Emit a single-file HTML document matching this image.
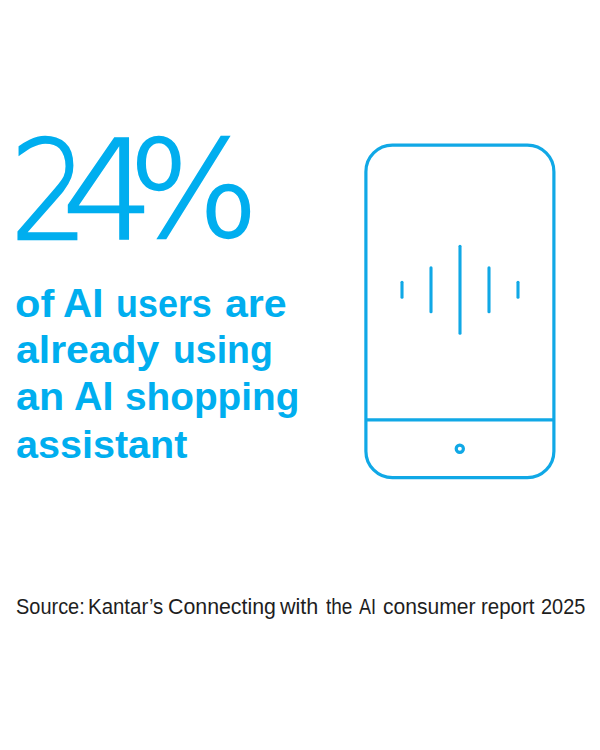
<!DOCTYPE html>
<html lang="en">
<head>
<meta charset="utf-8">
<title>24% of AI users are already using an AI shopping assistant</title>
<style>
  html, body { margin: 0; padding: 0; background: #ffffff; }
  body { width: 600px; height: 750px; position: relative; overflow: hidden; }
  .w, .g { position: absolute; display: inline-block; white-space: nowrap; line-height: 0; transform-origin: 0 0; }
  .big { position: absolute; left: 0; top: 0; margin: 0; font-family: "DejaVu Sans", "Liberation Sans", sans-serif; font-weight: 200; font-size: 136px; color: #00aeef; -webkit-text-stroke: 2.4px #00aeef; }
  .lead { position: absolute; left: 0; top: 0; margin: 0; font-family: "Liberation Sans", sans-serif;
    font-weight: 700; font-size: 39px; color: #00aeef; }
  .lead br { display: none; }
  .src { position: absolute; left: 0; top: 0; margin: 0; font-family: "Liberation Sans", sans-serif;
    font-weight: 400; font-size: 21.8px; color: #1e1e1e; }
  svg.phone { position: absolute; left: 0; top: 0; }
</style>
</head>
<body>
<h1 class="big"><span class="g" style="left:10.00px;top:191.80px;transform:scale(0.9091,1.0098)">2</span><span class="g" style="left:62.00px;top:192.00px;transform:scale(1.0694,1.0079)">4</span><span class="g" style="left:127.80px;top:190.20px;transform:scale(1.0153,0.9819)">%</span></h1>
<p class="lead"><span class="w" style="left:14.70px;top:303.60px;transform:scaleX(1.0657)">of</span> <span class="w" style="left:63.00px;top:302.60px;transform:scale(1.0361,1.045)">AI</span> <span class="w" style="left:116.00px;top:303.60px;transform:scaleX(0.9208)">users</span> <span class="w" style="left:224.70px;top:303.60px;transform:scaleX(1.0536)">are</span> <br> <span class="w" style="left:16.00px;top:350.30px;transform:scaleX(1.0496)">already</span> <span class="w" style="left:172.70px;top:350.30px;transform:scaleX(0.9600)">using</span> <br> <span class="w" style="left:15.90px;top:397.40px;transform:scaleX(1.0571)">an</span> <span class="w" style="left:74.30px;top:396.40px;transform:scale(1.0083,1.045)">AI</span> <span class="w" style="left:125.30px;top:397.40px;transform:scaleX(0.9942)">shopping</span> <br> <span class="w" style="left:16.00px;top:444.60px;transform:scaleX(1.0137)">assistant</span> <br></p>
<svg class="phone" width="600" height="750" viewBox="0 0 600 750" fill="none" stroke="#10a8e6" stroke-linecap="round" aria-hidden="true">
  <rect x="365.9" y="145.2" width="188" height="332.5" rx="26.5" ry="26.5" stroke-width="3.2"/>
  <line x1="365.9" y1="419.9" x2="553.9" y2="419.9" stroke-width="3.1" stroke-linecap="butt"/>
  <line x1="402" y1="282.2" x2="402" y2="297.2" stroke-width="3.1"/>
  <line x1="431" y1="267.8" x2="431" y2="311.8" stroke-width="3.1"/>
  <line x1="460" y1="246.3" x2="460" y2="333.3" stroke-width="3.1"/>
  <line x1="489" y1="267.8" x2="489" y2="311.8" stroke-width="3.1"/>
  <line x1="518" y1="282.2" x2="518" y2="297.2" stroke-width="3.1"/>
  <circle cx="459.8" cy="448.8" r="3.6" stroke-width="3.2"/>
</svg>
<p class="src"><span class="w" style="left:16.10px;top:606.60px;transform:scaleX(0.9153)">Source:</span> <span class="w" style="left:87.90px;top:606.60px;transform:scaleX(0.9372)">Kantar’s</span> <span class="w" style="left:168.00px;top:606.60px;transform:scaleX(0.9787)">Connecting</span> <span class="w" style="left:279.70px;top:606.60px;transform:scaleX(0.9895)">with</span> <span class="w" style="left:326.00px;top:606.60px;transform:scaleX(0.8724)">the</span> <span class="w" style="left:359.30px;top:606.60px;transform:scaleX(0.8263)">AI</span> <span class="w" style="left:383.00px;top:606.60px;transform:scaleX(0.9670)">consumer</span> <span class="w" style="left:481.40px;top:606.60px;transform:scaleX(0.9393)">report</span> <span class="w" style="left:540.70px;top:606.60px;transform:scaleX(0.9149)">2025</span></p>
</body>
</html>
